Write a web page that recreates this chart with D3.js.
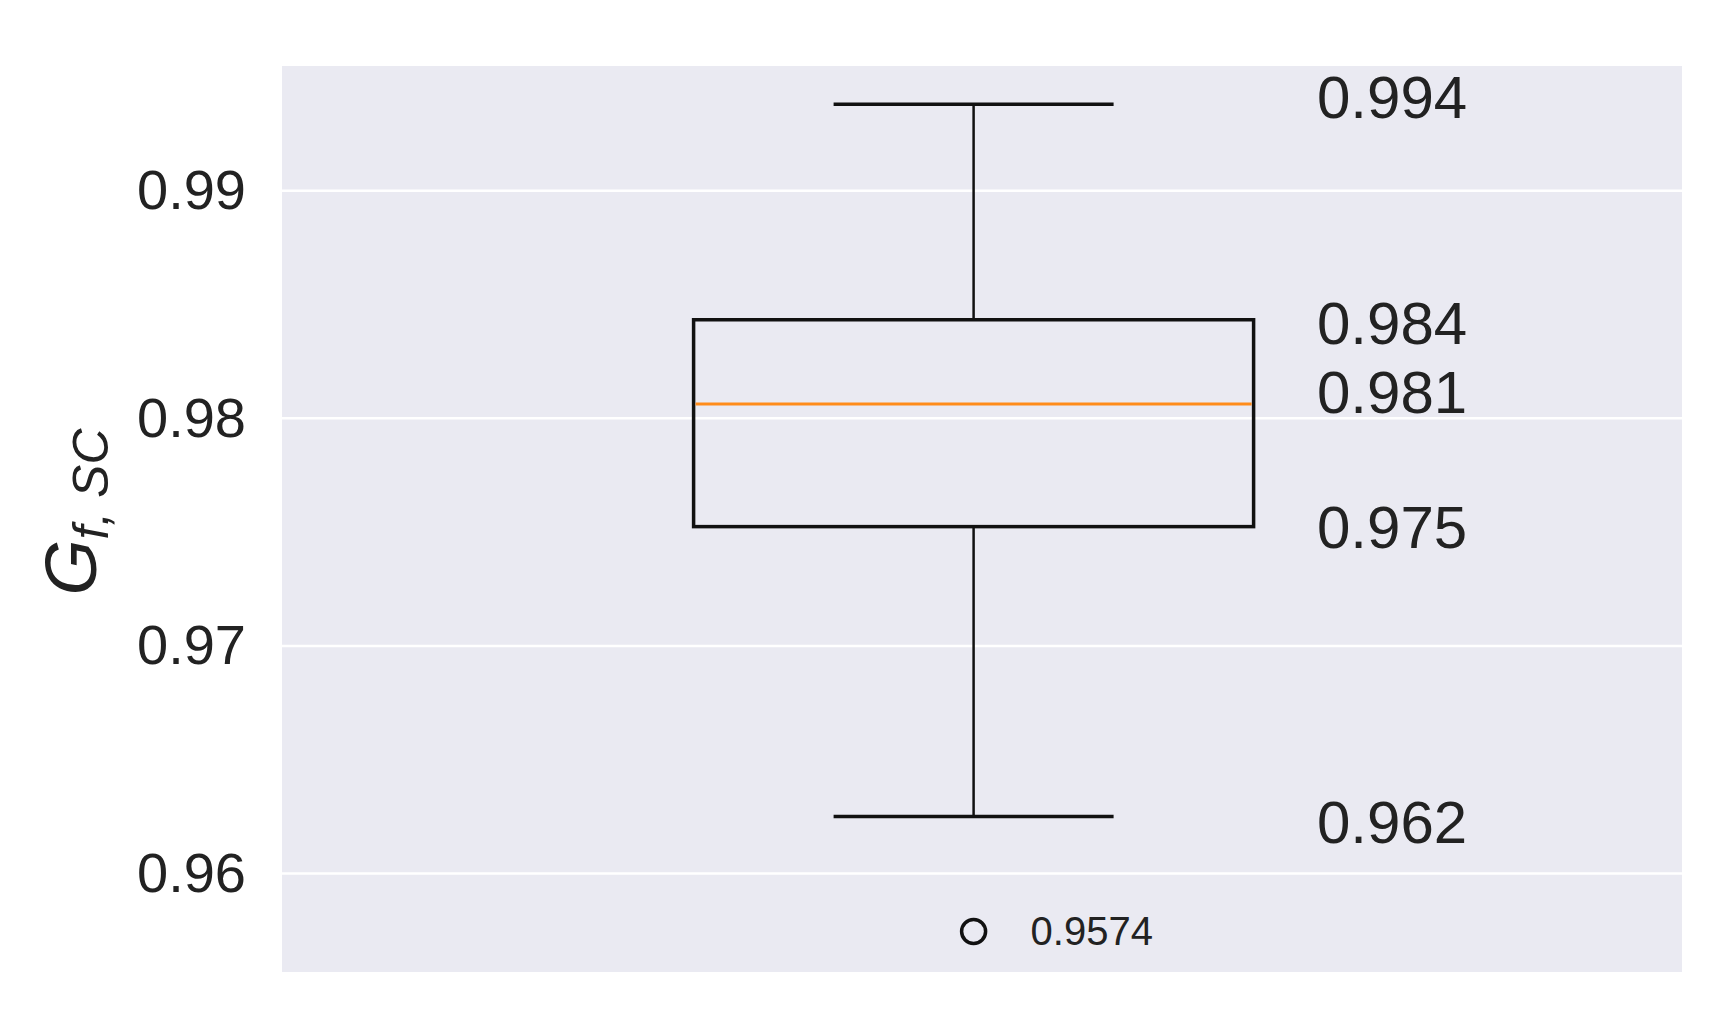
<!DOCTYPE html>
<html><head><meta charset="utf-8">
<script src="https://cdn.jsdelivr.net/npm/d3@7"></script>
<style>body{margin:0;background:#fff}text{font-family:"Liberation Sans",Arial,sans-serif}</style>
</head><body><svg id="c" width="1710" height="1010"></svg>
<script>
const categories = ["G"];
const whiskerLow = [0.96250];
const q1 = [0.97524];
const median = [0.98063];
const q3 = [0.98433];
const whiskerHigh = [0.99380];
const outliers = [0.95745];
const yTicks = [0.96, 0.97, 0.98, 0.99];
const annotations = ["0.994","0.984","0.981","0.975","0.962"];
const annotationValues = [0.9938,0.98433,0.98063,0.97524,0.9625];
const outlierLabel = ["0.9574"];

const svg = d3.select("#c");
const L=282,R=1682,T=66,B=972;
const x = d3.scaleBand().domain(categories).range([L,R]).paddingInner(0).paddingOuter(0.75).align(0.49);
const y = d3.scaleLinear().domain([0.95567,0.99548]).range([B,T]);
svg.append("rect").attr("x",L).attr("y",T).attr("width",R-L).attr("height",B-T).attr("fill","#eaeaf2");
svg.append("g").selectAll("line").data(yTicks).join("line")
  .attr("x1",L).attr("x2",R).attr("y1",d=>y(d)).attr("y2",d=>y(d)).attr("stroke","#fff").attr("stroke-width",2.5);
const ax = svg.append("g").attr("transform",`translate(${L},0)`).call(d3.axisLeft(y).tickValues(yTicks).tickFormat(d3.format(".2f")).tickSize(0).tickPadding(36));
ax.select(".domain").remove();
ax.selectAll("text").attr("font-size",56).attr("fill","#222").attr("font-family","Liberation Sans, Arial, sans-serif").text(d=>String(+d.toFixed(2)));
svg.append("text").attr("transform","translate(96,512) rotate(-90)").attr("text-anchor","middle")
  .attr("font-size",72).attr("fill","#222").attr("font-style","italic")
  .html('G<tspan font-size="50" dy="12">f, SC</tspan>');

categories.forEach((c,i)=>{
  const cx = x(c)+x.bandwidth()/2, bw = x.bandwidth(), cw = bw/2;
  const g = svg.append("g").attr("stroke","#111").attr("stroke-width",3.5).attr("fill","none");
  g.append("line").attr("x1",cx).attr("x2",cx).attr("y1",y(q3[i])).attr("y2",y(whiskerHigh[i])).attr("stroke-width",2.5);
  g.append("line").attr("x1",cx).attr("x2",cx).attr("y1",y(q1[i])).attr("y2",y(whiskerLow[i])).attr("stroke-width",2.5);
  g.append("line").attr("x1",cx-cw/2).attr("x2",cx+cw/2).attr("y1",y(whiskerHigh[i])).attr("y2",y(whiskerHigh[i]));
  g.append("line").attr("x1",cx-cw/2).attr("x2",cx+cw/2).attr("y1",y(whiskerLow[i])).attr("y2",y(whiskerLow[i]));
  g.append("rect").attr("x",x(c)).attr("width",bw).attr("y",y(q3[i])).attr("height",y(q1[i])-y(q3[i]));
  svg.append("line").attr("x1",x(c)+2).attr("x2",x(c)+bw-2).attr("y1",y(median[i])).attr("y2",y(median[i])).attr("stroke","#ff8c1a").attr("stroke-width",3);
  svg.selectAll(null).data(outliers).join("circle").attr("cx",cx).attr("cy",d=>y(d)).attr("r",12).attr("fill","none").attr("stroke","#111").attr("stroke-width",3.5);
  svg.selectAll(null).data(outlierLabel).join("text").attr("x",cx+57).attr("y",y(outliers[0])).attr("dy","0.35em").attr("font-size",40).attr("fill","#222").text(d=>d);
});
const offs=[-8,3,-13,0,5];
svg.selectAll(null).data(annotations).join("text").attr("x",1317).attr("y",(d,i)=>y(annotationValues[i])+offs[i])
  .attr("dy","0.36em").attr("font-size",60).attr("fill","#222").text(d=>d);
</script></body></html>
